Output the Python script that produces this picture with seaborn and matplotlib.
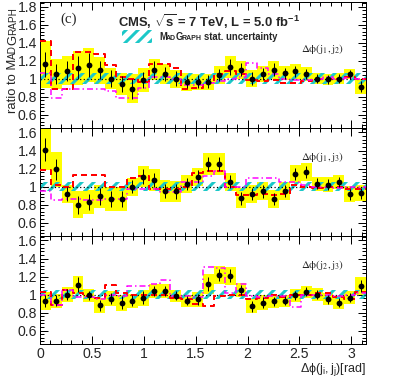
import matplotlib
matplotlib.use("Agg")
import matplotlib.pyplot as plt
import matplotlib.patches as mpatches
from matplotlib.ticker import MultipleLocator, FuncFormatter
import numpy as np
import pandas as pd
import seaborn as sns

# 30 bins in delta phi, 0..pi
n_bins = 30
edges = np.linspace(0, np.pi, n_bins + 1)
centers = 0.5 * (edges[:-1] + edges[1:])
bw = edges[1] - edges[0]

# panel 1: dphi(j1,j2)
data1 = [1.16, 1.05, 1.085, 1.12, 1.15, 1.09, 1.00, 0.94, 0.885, 0.985,
         1.10, 1.05, 1.00, 0.965, 0.965, 0.965, 1.04, 1.13, 1.10, 1.00,
         1.05, 1.10, 1.06, 1.08, 1.05, 1.00, 0.99, 1.00, 1.05, 0.91]
stat1 = [0.14, 0.11, 0.11, 0.13, 0.13, 0.10, 0.09, 0.09, 0.11, 0.09,
         0.09, 0.08, 0.08, 0.07, 0.07, 0.07, 0.07, 0.09, 0.07, 0.07,
         0.07, 0.07, 0.06, 0.06, 0.06, 0.05, 0.05, 0.05, 0.05, 0.06]
tot1 = [0.26, 0.17, 0.16, 0.19, 0.19, 0.15, 0.12, 0.12, 0.16, 0.13,
        0.12, 0.11, 0.10, 0.10, 0.09, 0.09, 0.10, 0.12, 0.10, 0.09,
        0.09, 0.10, 0.08, 0.08, 0.08, 0.06, 0.06, 0.06, 0.06, 0.08]
red1 = [1.42, 0.885, 0.885, 1.29, 1.29, 1.27, 1.15, 1.02, 1.00, 0.96,
        1.16, 1.16, 1.12, 0.88, 0.90, 0.95, 1.05, 1.08, 1.05, 0.98,
        0.97, 0.98, 0.95, 0.95, 0.97, 1.00, 1.00, 1.00, 1.02, 1.00]
mag1 = [1.06, 0.78, 0.88, 0.88, 0.88, 0.88, 0.86, 0.78, 0.78, 0.90,
        1.02, 1.02, 1.00, 0.93, 0.93, 0.95, 0.97, 1.00, 1.02, 1.17,
        1.12, 1.05, 1.00, 0.98, 0.98, 1.00, 1.02, 1.00, 1.01, 0.99]
mg1 = [0.06, 0.06, 0.06, 0.06, 0.06, 0.06, 0.06, 0.06, 0.06, 0.06,
       0.06, 0.06, 0.06, 0.06, 0.06, 0.06, 0.06, 0.06, 0.06, 0.06,
       0.06, 0.06, 0.06, 0.06, 0.06, 0.06, 0.06, 0.06, 0.06, 0.06]

# panel 2: dphi(j1,j3)
data2 = [1.41, 1.19, 0.915, 0.80, 0.83, 0.89, 0.86, 0.86, 1.00, 1.11,
         1.07, 0.95, 0.945, 1.03, 1.11, 1.25, 1.25, 1.055, 0.87, 0.915,
         0.945, 0.86, 0.95, 1.14, 1.16, 1.03, 1.02, 1.05, 0.915, 0.925]
stat2 = [0.13, 0.12, 0.08, 0.10, 0.09, 0.09, 0.09, 0.09, 0.07, 0.08,
         0.08, 0.08, 0.08, 0.07, 0.07, 0.08, 0.08, 0.07, 0.07, 0.07,
         0.07, 0.07, 0.07, 0.07, 0.07, 0.06, 0.06, 0.06, 0.06, 0.06]
tot2 = [0.23, 0.19, 0.10, 0.15, 0.13, 0.13, 0.13, 0.13, 0.10, 0.12,
        0.12, 0.12, 0.12, 0.10, 0.10, 0.12, 0.12, 0.10, 0.11, 0.10,
        0.10, 0.10, 0.10, 0.10, 0.10, 0.08, 0.08, 0.08, 0.09, 0.09]
red2 = [1.18, 1.02, 1.00, 1.13, 1.13, 1.13, 1.00, 1.00, 1.10, 1.12,
        0.97, 0.97, 0.97, 1.00, 1.15, 1.17, 1.17, 1.00, 0.91, 0.91,
        0.92, 0.91, 0.92, 1.02, 1.00, 0.98, 1.00, 1.00, 0.97, 0.97]
mag2 = [0.955, 0.85, 0.86, 0.86, 0.85, 0.85, 0.86, 0.86, 0.97, 0.97,
        0.97, 0.94, 0.94, 1.05, 1.05, 1.12, 1.17, 1.00, 1.00, 1.09,
        1.09, 1.09, 1.05, 1.05, 1.02, 1.00, 1.00, 0.98, 1.00, 1.00]
mg2 = [0.055, 0.055, 0.055, 0.055, 0.055, 0.055, 0.055, 0.055, 0.055, 0.055,
       0.055, 0.055, 0.055, 0.055, 0.055, 0.055, 0.055, 0.055, 0.055, 0.055,
       0.055, 0.055, 0.055, 0.055, 0.055, 0.055, 0.055, 0.055, 0.055, 0.055]

# panel 3: dphi(j2,j3)
data3 = [0.93, 0.93, 1.00, 1.11, 0.99, 0.88, 0.955, 0.91, 0.93, 0.965,
         1.04, 1.04, 0.985, 0.93, 0.945, 1.115, 1.215, 1.21, 1.05, 0.87,
         0.91, 0.925, 0.93, 0.99, 1.03, 1.00, 0.95, 0.91, 0.965, 1.095]
stat3 = [0.07, 0.06, 0.06, 0.08, 0.05, 0.06, 0.06, 0.07, 0.06, 0.07,
         0.06, 0.06, 0.05, 0.05, 0.06, 0.08, 0.07, 0.07, 0.06, 0.06,
         0.06, 0.05, 0.05, 0.05, 0.05, 0.05, 0.05, 0.05, 0.05, 0.07]
tot3 = [0.10, 0.08, 0.08, 0.10, 0.07, 0.08, 0.08, 0.09, 0.08, 0.09,
        0.08, 0.08, 0.07, 0.07, 0.08, 0.11, 0.10, 0.10, 0.08, 0.08,
        0.08, 0.07, 0.07, 0.07, 0.07, 0.07, 0.07, 0.07, 0.07, 0.10]
red3 = [1.03, 0.88, 1.05, 1.02, 0.98, 0.96, 1.11, 1.02, 1.00, 1.00,
        1.00, 1.00, 0.96, 0.95, 0.90, 0.87, 0.98, 1.00, 1.00, 0.95,
        0.96, 1.00, 0.97, 1.00, 1.00, 1.02, 1.02, 0.97, 0.95, 1.03]
mag3 = [1.00, 0.88, 1.05, 0.97, 0.97, 0.95, 1.00, 0.98, 1.10, 1.10,
        1.12, 1.16, 0.98, 0.98, 0.97, 1.31, 1.30, 1.02, 1.12, 0.98,
        0.97, 0.98, 0.98, 0.86, 0.99, 1.00, 1.00, 0.98, 1.00, 1.02]
mg3 = [0.055, 0.055, 0.055, 0.055, 0.055, 0.055, 0.055, 0.055, 0.055, 0.055,
       0.055, 0.055, 0.055, 0.055, 0.055, 0.055, 0.055, 0.055, 0.055, 0.055,
       0.055, 0.055, 0.055, 0.055, 0.055, 0.055, 0.055, 0.055, 0.055, 0.055]

panel_labels = [r"$\mathrm{\Delta\phi(j_{1},j_{2})}$",
                r"$\mathrm{\Delta\phi(j_{1},j_{3})}$",
                r"$\mathrm{\Delta\phi(j_{2},j_{3})}$"]
ylims = [(0.45, 1.85), (0.45, 1.65), (0.45, 1.65)]

CYAN = "#1cc8c8"

sns.set_theme(style="ticks", rc={"xtick.direction": "in", "ytick.direction": "in"})
plt.rcParams["font.family"] = ["Liberation Sans", "DejaVu Sans"]
plt.rcParams["mathtext.fontset"] = "custom"
plt.rcParams["mathtext.rm"] = "Liberation Sans"
plt.rcParams["mathtext.bf"] = "Liberation Sans:bold"
plt.rcParams["mathtext.it"] = "Liberation Sans:italic"
plt.rcParams["hatch.linewidth"] = 3
plt.rcParams["axes.linewidth"] = 1.0
plt.rcParams["axes.edgecolor"] = "black"

W, H = 407, 383
fig, axes = plt.subplots(3, 1, figsize=(W / 72, H / 72), dpi=72, sharex=True,
                         gridspec_kw=dict(height_ratios=[1.4, 1.2, 1.2], hspace=0))
fig.subplots_adjust(left=40 / W, right=366 / W, top=1 - 2 / H, bottom=1 - 344 / H)

panels = [
    (data1, stat1, tot1, red1, mag1, mg1),
    (data2, stat2, tot2, red2, mag2, mg2),
    (data3, stat3, tot3, red3, mag3, mg3),
]

for i, (ax, (vals, stat, tot, red, mag, mg)) in enumerate(zip(axes, panels)):
    vals = np.array(vals)
    tot = np.array(tot)
    mg = np.array(mg)
    # total uncertainty boxes
    ax.bar(edges[:-1], 2 * tot, bottom=vals - tot, width=bw, align="edge",
           color="#ffff00", lw=0, zorder=1)
    # madgraph stat uncertainty (hatched)
    ax.bar(edges[:-1], 2 * mg, bottom=1 - mg, width=bw, align="edge",
           fill=False, hatch="//", edgecolor=CYAN, lw=0, zorder=2)
    ax.axhline(1, color="black", ls=(0, (1, 2)), lw=1.2, zorder=2.5)

    steps = pd.DataFrame({"x": edges, "red": red + [red[-1]], "mag": mag + [mag[-1]]})
    sns.lineplot(data=steps, x="x", y="red", ax=ax, drawstyle="steps-post",
                 estimator=None, sort=False, color="#ff0000", lw=2,
                 linestyle=(0, (3, 2)), zorder=3)
    sns.lineplot(data=steps, x="x", y="mag", ax=ax, drawstyle="steps-post",
                 estimator=None, sort=False, color="#ff00ff", lw=1.5,
                 linestyle=(0, (4, 2, 1, 2)), zorder=3)

    ax.errorbar(centers, vals, yerr=stat, fmt="none", ecolor="black",
                elinewidth=1, capsize=0, zorder=4)
    sns.scatterplot(x=centers, y=vals, ax=ax, color="black", s=34,
                    edgecolor="black", linewidth=0, zorder=5)

    ax.text(2.52, 1.30, panel_labels[i], fontsize=11, math_fontfamily="stix")

    ax.set_xlim(0, np.pi)
    ax.set_ylim(*ylims[i])
    ax.xaxis.set_major_locator(MultipleLocator(0.5))
    ax.xaxis.set_minor_locator(MultipleLocator(0.1))
    ax.yaxis.set_major_locator(MultipleLocator(0.2))
    ax.yaxis.set_minor_locator(MultipleLocator(0.04))
    ax.yaxis.set_major_formatter(FuncFormatter(lambda v, p: f"{v:g}"))
    ax.xaxis.set_major_formatter(FuncFormatter(lambda v, p: f"{v:g}"))
    ax.tick_params(which="both", direction="in", top=True, right=True,
                   width=1, labelsize=14, pad=3, color="black")
    ax.tick_params(which="major", length=8)
    ax.tick_params(which="minor", length=4)
    ax.set_xlabel("")
    ax.set_ylabel("")
    for s in ax.spines.values():
        s.set_color("black")


def place_pieces(x, y, pieces, rotation=0, **kw):
    # consecutive text pieces (for small caps), coords in pixels from top-left
    r = fig.canvas.get_renderer()
    for s, size, gap in pieces:
        if rotation == 90:
            y -= gap
        else:
            x += gap
        t = fig.text(x / W, 1 - y / H, s, fontsize=size, rotation=rotation,
                     rotation_mode="anchor", ha="left", va="baseline", **kw)
        bb = t.get_window_extent(r)
        if rotation == 90:
            y -= bb.height
        else:
            x += bb.width


# y axis label with small caps
place_pieces(16, 113, [("ratio to M", 13, 0), ("AD", 10, 0), ("G", 13, 0),
                       ("RAPH", 10, 0)], rotation=90)

# x axis label
fig.text(366 / W, 1 - 372 / H, r"$\mathrm{\Delta\phi(j_{i},j_{j})}$[rad]",
         ha="right", va="baseline", fontsize=12.5)

fig.text(60 / W, 1 - 23 / H, "(c)", fontsize=15, family="Liberation Serif",
         ha="left", va="baseline")
fig.text(118 / W, 1 - 27 / H,
         r"CMS, $\mathbf{\sqrt{s}}$ = 7 TeV, L = 5.0 fb$^{\mathbf{-1}}$",
         fontsize=13, weight="bold", ha="left", va="baseline")

# legend entry
fig.patches.append(mpatches.Rectangle((122 / W, 1 - 43 / H), 30 / W, 13 / H,
                                      transform=fig.transFigure, fill=False,
                                      hatch="//", edgecolor=CYAN, lw=0))
place_pieces(159, 40, [("M", 9.5, 0), ("AD", 7, -0.8), ("G", 9.5, -0.8),
                       ("RAPH", 7, -0.8), ("stat. uncertainty", 9.5, 2.5)],
             weight="bold")

fig.savefig("out.png", dpi=72)
